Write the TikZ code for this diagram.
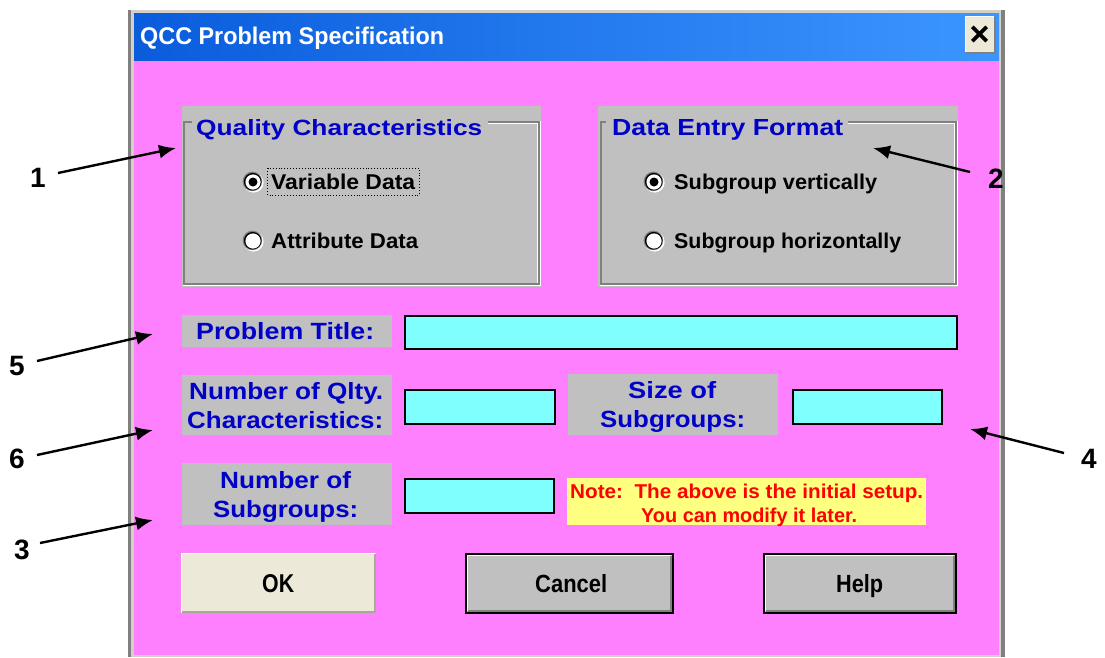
\documentclass[tikz,border=0pt]{standalone}
\usepackage{fontspec}
\setmainfont{Liberation Sans}
\usetikzlibrary{arrows.meta}
\definecolor{pinkbg}{HTML}{FF80FF}
\definecolor{winGray}{HTML}{C0C0C0}
\definecolor{cyanbox}{HTML}{80FFFF}
\definecolor{noteYellow}{HTML}{FFFF80}
\definecolor{uiBlue}{HTML}{0000C8}
\definecolor{noteRed}{HTML}{FF0000}
\definecolor{beigeBtn}{HTML}{ECE9D8}
\definecolor{titleL}{HTML}{0A5CDC}
\definecolor{titleR}{HTML}{3C96FF}
\definecolor{frameGray}{HTML}{D4D0C8}
\definecolor{darkGray}{HTML}{808080}
\definecolor{shadowBeige}{HTML}{ACA899}
\newcommand\fitt[3]{\resizebox{#1pt}{#2pt}{\bfseries #3}}
\newcommand\radiobtn[2]{%
  \fill[white] (#1+0.6,#2+0.6) circle (10);
  \fill[darkGray] (#1-0.6,#2-0.6) circle (9.8);
  \fill[black] (#1-0.3,#2-0.3) circle (8.8);
  \fill[white] (#1,#2) circle (7.6);}
\begin{document}
\begin{tikzpicture}[x=1pt,y=-1pt,
  lab/.style={anchor=base west, inner sep=0pt, text=uiBlue},
  blk/.style={anchor=base west, inner sep=0pt, text=black},
  num/.style={anchor=base, inner sep=0pt, font=\fontsize{28}{28}\selectfont\bfseries},
  arr/.style={line width=2.4pt, -{Latex[length=17pt,width=14pt]}},
  inbox/.style={draw=black, line width=1.5pt, fill=cyanbox},
  etchdark/.style={draw=darkGray, line width=1.2pt},
  etchlight/.style={draw=white, line width=1.2pt}]
\useasboundingbox (0,0) rectangle (1105,657);
\fill[white] (0,0) rectangle (1105,657);
% window frame
\fill[frameGray] (128,10) rectangle (1005,657);
\fill[darkGray] (128,10) rectangle (131,657);
\fill[darkGray] (1001,10) rectangle (1005,657);
\shade[left color=titleL, right color=titleR] (134,13) rectangle (999,60);
\fill[pinkbg] (134,61) rectangle (999,655);
\node[anchor=base west, inner sep=0pt, text=white] (title) at (140,44) {\fitt{304}{17.5}{QCC Problem Specification}};
% close button
\fill[darkGray] (966,17) rectangle (996,54);
\fill[beigeBtn] (965,16) rectangle (994,52);
\draw[white, line width=1pt] (965.5,52) -- (965.5,16.5) -- (994,16.5);
\node[inner sep=0pt, minimum size=14pt] (close) at (979.5,34) {};
\draw[black, line width=3.6pt] (close.north west) -- (close.south east) (close.north east) -- (close.south west);
% group box 1
\fill[winGray] (182,106) rectangle (541,287);
\draw[etchdark] (488,122) -- (539,122) -- (539,284) -- (184,284) -- (184,122) -- (192,122);
\draw[etchlight] (488,123.2) -- (537.8,123.2) -- (537.8,282.8);
\draw[etchlight] (540.2,121) -- (540.2,285.2) -- (183,285.2);
\node[lab] (qc) at (196,135) {\fitt{286}{16}{Quality Characteristics}};
\radiobtn{253}{182}
\fill[black] (253,182) circle (4.5);
\node[blk] (vd) at (271,189) {\fitt{144}{15.5}{Variable Data}};
\draw[black, dotted, line width=0.9pt] (267.5,168) rectangle (419,195);
\radiobtn{253}{241}
\node[blk] (ad) at (271,248) {\fitt{147}{15.5}{Attribute Data}};
% group box 2
\fill[winGray] (598,106) rectangle (958,287);
\draw[etchdark] (848,122) -- (956,122) -- (956,284) -- (601,284) -- (601,122) -- (606,122);
\draw[etchlight] (848,123.2) -- (954.8,123.2) -- (954.8,282.8);
\draw[etchlight] (957.2,121) -- (957.2,285.2) -- (600,285.2);
\node[lab] (def) at (612,135) {\fitt{231}{16}{Data Entry Format}};
\radiobtn{654}{182}
\fill[black] (654,182) circle (4.5);
\node[blk] (sv) at (674,189) {\fitt{203}{15.5}{Subgroup vertically}};
\radiobtn{654}{241}
\node[blk] (sh) at (674,248) {\fitt{227}{15.5}{Subgroup horizontally}};
% problem title
\fill[winGray] (182,315) rectangle (392,347);
\node[lab] (pt) at (196,339) {\fitt{178}{17}{Problem Title:}};
\draw[inbox] (405,316) rectangle (957,349);
% qlty
\fill[winGray] (182,375) rectangle (392,435);
\node[lab] (nq1) at (189,399) {\fitt{194}{17}{Number of Qlty.}};
\node[lab] (nq2) at (187,428) {\fitt{196}{17}{Characteristics:}};
\draw[inbox] (405,390) rectangle (555,424);
% size of subgroups
\fill[winGray] (568,374) rectangle (778,435);
\node[lab] (ss1) at (628,398) {\fitt{88}{17}{Size of}};
\node[lab] (ss2) at (600,427) {\fitt{145}{17}{Subgroups:}};
\draw[inbox] (793,390) rectangle (942,424);
% number of subgroups
\fill[winGray] (182,463) rectangle (392,525);
\node[lab] (ns1) at (220,488) {\fitt{131}{17}{Number of}};
\node[lab] (ns2) at (213,517) {\fitt{145}{17}{Subgroups:}};
\draw[inbox] (405,479) rectangle (554,513);
% note
\fill[noteYellow] (567,478) rectangle (926,525);
\node[anchor=base west, inner sep=0pt, text=noteRed] (note1) at (570,498) {\fitt{353}{14.5}{Note:\ \ The above is the initial setup.}};
\node[anchor=base west, inner sep=0pt, text=noteRed] (note2) at (641,522) {\fitt{216}{14.5}{You can modify it later.}};
% buttons
\fill[beigeBtn] (181,553) rectangle (376,613);
\draw[white, line width=1.5pt] (181.7,612) -- (181.7,553.7) -- (375,553.7);
\draw[shadowBeige, line width=2pt] (182,612) -- (375,612) -- (375,554);
\node[blk] (ok) at (262,592) {\fitt{32}{18}{OK}};
\foreach \xa/\xb in {465/674, 763/957} {
  \fill[black] (\xa,553) rectangle (\xb,614);
  \fill[winGray] (\xa+2,555) rectangle (\xb-2,612);
  \draw[white, line width=1.5pt] (\xa+2.7,611) -- (\xa+2.7,555.7) -- (\xb-3,555.7);
  \draw[darkGray, line width=2pt] (\xa+3,610.5) -- (\xb-3.5,610.5) -- (\xb-3.5,556);
}
\node[blk] (cancel) at (535,592) {\fitt{72}{18}{Cancel}};
\node[blk] (help) at (836,592) {\fitt{47}{18}{Help}};
% annotation numbers and arrows
\node[num] (n1) at (38,187) {1};
\node[num] (n2) at (996,188) {2};
\node[num] (n5) at (17,375) {5};
\node[num] (n6) at (17,468) {6};
\node[num] (n3) at (22,559) {3};
\node[num] (n4) at (1089,468) {4};
\coordinate (s1) at (58,173); \coordinate (t1) at (176,148);
\coordinate (s2) at (970,172); \coordinate (t2) at (873,148);
\coordinate (s5) at (37,361); \coordinate (t5) at (153,334);
\coordinate (s6) at (37,455); \coordinate (t6) at (153,430);
\coordinate (s3) at (40,543); \coordinate (t3) at (153,520);
\coordinate (s4) at (1064,453); \coordinate (t4) at (970,429);
\foreach \k in {1,2,5,6,3,4} { \draw[arr] (s\k) -- (t\k); }
\end{tikzpicture}
\end{document}
